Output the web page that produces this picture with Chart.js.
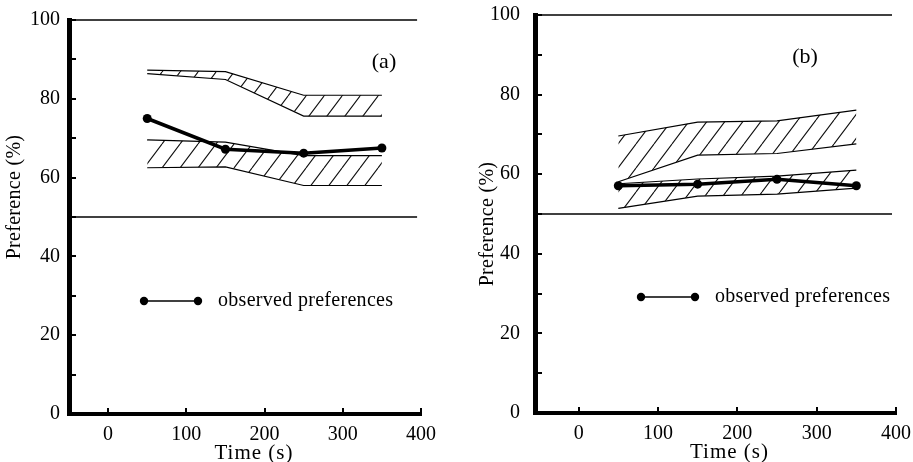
<!DOCTYPE html>
<html>
<head>
<meta charset="utf-8">
<title>Preference vs time</title>
<script src="https://cdn.jsdelivr.net/npm/chart.js@4.4.0/dist/chart.umd.min.js"></script>
<style>
	html, body { margin: 0; padding: 0; background: #fff; }
	.panel { position: absolute; top: 0; height: 462px; }
	#panelA { left: 0; width: 456px; }
	#panelB { left: 456px; width: 457px; }
</style>
</head>
<body>
<div class="panel" id="panelA"><canvas id="chartA"></canvas></div>
<div class="panel" id="panelB"><canvas id="chartB"></canvas></div>
<script>
'use strict';

// sampling times (s)
var times = [50, 150, 250, 350];

// panel (a): observed preference and the two predicted bands (%)
var observedA = [75.0, 67.2, 66.2, 67.5];
var upperTopA = [87.3, 86.9, 80.9, 80.9];
var upperBottomA = [86.4, 84.9, 75.6, 75.6];
var lowerTopA = [69.6, 69.0, 65.6, 65.6];
var lowerBottomA = [62.5, 62.7, 58.0, 58.0];

// panel (b)
var observedB = [57.1, 57.5, 58.7, 57.1];
var upperTopB = [69.6, 73.1, 73.4, 76.1];
var upperBottomB = [58.1, 64.8, 65.2, 67.6];
var lowerTopB = [57.6, 58.8, 59.5, 61.0];
var lowerBottomB = [51.4, 54.5, 55.0, 56.5];

// horizontal reference levels (%) and their right-hand end (s)
var referenceLevels = [50, 100];
var referenceEnd = 395;

// axis ticks
var xTickValues = [0, 100, 200, 300, 400];
var yMinorTicks = [0, 10, 20, 30, 40, 50, 60, 70, 80, 90, 100];

var SERIF = '"Liberation Serif", "DejaVu Serif", serif';
var INK = '#000';

// diagonal "/" hatching used for the bands
function hatchPattern() {
	var w = 18, h = 24;
	var c = document.createElement('canvas');
	c.width = w;
	c.height = h;
	var g = c.getContext('2d');
	g.strokeStyle = '#111';
	g.lineWidth = 1.1;
	g.beginPath();
	for (var k = -1; k <= 1; k++) {
		g.moveTo(k * w, h);
		g.lineTo(k * w + w, 0);
	}
	g.stroke();
	return g.createPattern(c, 'repeat');
}

function points(values) {
	return values.map(function(v, i) { return { x: times[i], y: v }; });
}

function edge(values, fill, hatch) {
	return {
		data: points(values),
		borderColor: INK,
		borderWidth: 1.2,
		pointRadius: 0,
		tension: 0,
		fill: fill,
		backgroundColor: fill ? hatch : 'transparent',
		order: 2
	};
}

// extra drawing: inner tick marks, axis titles, panel tag and key
var paperDecor = {
	id: 'paperDecor',
	afterDraw: function(chart, args, opts) {
		var ctx = chart.ctx;
		var area = chart.chartArea;
		var xs = chart.scales.x, ys = chart.scales.y;

		ctx.save();
		ctx.strokeStyle = INK;
		ctx.lineWidth = 2;
		ctx.beginPath();
		yMinorTicks.forEach(function(v) {
			var py = Math.round(ys.getPixelForValue(v));
			ctx.moveTo(area.left, py);
			ctx.lineTo(area.left + 7, py);
		});
		xTickValues.forEach(function(v) {
			var px = Math.round(xs.getPixelForValue(v));
			ctx.moveTo(px, area.bottom);
			ctx.lineTo(px, area.bottom - 6);
		});
		ctx.stroke();

		ctx.fillStyle = INK;
		ctx.textAlign = 'center';
		ctx.textBaseline = 'middle';

		// x axis title
		ctx.font = '21px ' + SERIF;
		ctx.letterSpacing = '1px';
		ctx.fillText('Time (s)', (area.left + area.right) / 2 + opts.xTitleShift, area.bottom + 39);

		// y axis title
		ctx.save();
		ctx.translate(area.left - opts.yTitleGap, (area.top + area.bottom) / 2 + opts.yTitleShift);
		ctx.rotate(-Math.PI / 2);
		ctx.font = '20px ' + SERIF;
		ctx.letterSpacing = '0.3px';
		ctx.fillText('Preference (%)', 0, 0);
		ctx.restore();

		// panel tag
		ctx.font = '22px ' + SERIF;
		ctx.letterSpacing = '0px';
		ctx.fillText(opts.tag, area.left + opts.tagDx, area.top + opts.tagDy);

		// key for the observed series
		var kx = area.left + opts.keyDx, ky = area.top + opts.keyDy;
		ctx.lineWidth = 1.5;
		ctx.beginPath();
		ctx.moveTo(kx, ky);
		ctx.lineTo(kx + 54, ky);
		ctx.stroke();
		[kx, kx + 54].forEach(function(cx) {
			ctx.beginPath();
			ctx.arc(cx, ky, 4.2, 0, Math.PI * 2);
			ctx.fill();
		});
		ctx.textAlign = 'left';
		ctx.font = '20px ' + SERIF;
		ctx.letterSpacing = '0.3px';
		ctx.fillText('observed preferences', kx + 74, ky);
		ctx.restore();
	}
};

function makeChart(canvasId, cfg) {
	var hatch = hatchPattern();
	var datasets = [
		{
			data: points(cfg.observed),
			borderColor: INK,
			backgroundColor: INK,
			borderWidth: 3.5,
			pointRadius: 4.5,
			pointBorderWidth: 0,
			tension: 0,
			fill: false,
			order: 0
		},
		edge(cfg.upperTop, '+1', hatch),
		edge(cfg.upperBottom, false, hatch),
		edge(cfg.lowerTop, '+1', hatch),
		edge(cfg.lowerBottom, false, hatch)
	];

	referenceLevels.forEach(function(level) {
		datasets.push({
			data: [{ x: cfg.xMin, y: level }, { x: referenceEnd, y: level }],
			borderColor: INK,
			borderWidth: 1.3,
			pointRadius: 0,
			fill: false,
			clip: 4,
			order: 3
		});
	});

	var tickFont = { family: SERIF, size: 20 };

	return new Chart(document.getElementById(canvasId), {
		type: 'line',
		data: { datasets: datasets },
		options: {
			responsive: true,
			maintainAspectRatio: false,
			animation: false,
			layout: { padding: { top: cfg.top, right: cfg.right, bottom: 0, left: 0 } },
			plugins: {
				legend: { display: false },
				tooltip: { enabled: false },
				paperDecor: cfg.decor
			},
			scales: {
				x: {
					type: 'linear',
					min: cfg.xMin,
					max: 400,
					grid: { display: false, drawTicks: false },
					border: { color: INK, width: 4 },
					ticks: {
						stepSize: 100,
						includeBounds: false,
						padding: 9,
						color: INK,
						font: tickFont
					},
					afterFit: function(scale) {
						// the layout padding alone decides where the plot area ends
						scale.height = cfg.xHeight;
						scale.paddingLeft = 0;
						scale.paddingRight = 0;
					}
				},
				y: {
					type: 'linear',
					min: 0,
					max: 100,
					grid: { display: false, drawTicks: false },
					border: { color: INK, width: 5 },
					ticks: {
						stepSize: 20,
						padding: cfg.yPad,
						color: INK,
						font: tickFont
					},
					afterFit: function(scale) {
						scale.width = cfg.yWidth;
						scale.paddingTop = 0;
						scale.paddingBottom = 0;
					}
				}
			}
		},
		plugins: [paperDecor]
	});
}

makeChart('chartA', {
	observed: observedA,
	upperTop: upperTopA,
	upperBottom: upperBottomA,
	lowerTop: lowerTopA,
	lowerBottom: lowerBottomA,
	xMin: -50,
	top: 20,
	right: 35,
	xHeight: 48,
	yWidth: 69,
	yPad: 9,
	decor: { tag: '(a)', tagDx: 315, tagDy: 42, keyDx: 75, keyDy: 281,
		xTitleShift: 9, yTitleGap: 54, yTitleShift: -20 }
});

makeChart('chartB', {
	observed: observedB,
	upperTop: upperTopB,
	upperBottom: upperBottomB,
	lowerTop: lowerTopB,
	lowerBottom: lowerBottomB,
	xMin: -55,
	top: 15,
	right: 17,
	xHeight: 49,
	yWidth: 79,
	yPad: 15,
	decor: { tag: '(b)', tagDx: 270, tagDy: 42, keyDx: 106, keyDy: 282,
		xTitleShift: 14, yTitleGap: 47, yTitleShift: 10 }
});
</script>
</body>
</html>
